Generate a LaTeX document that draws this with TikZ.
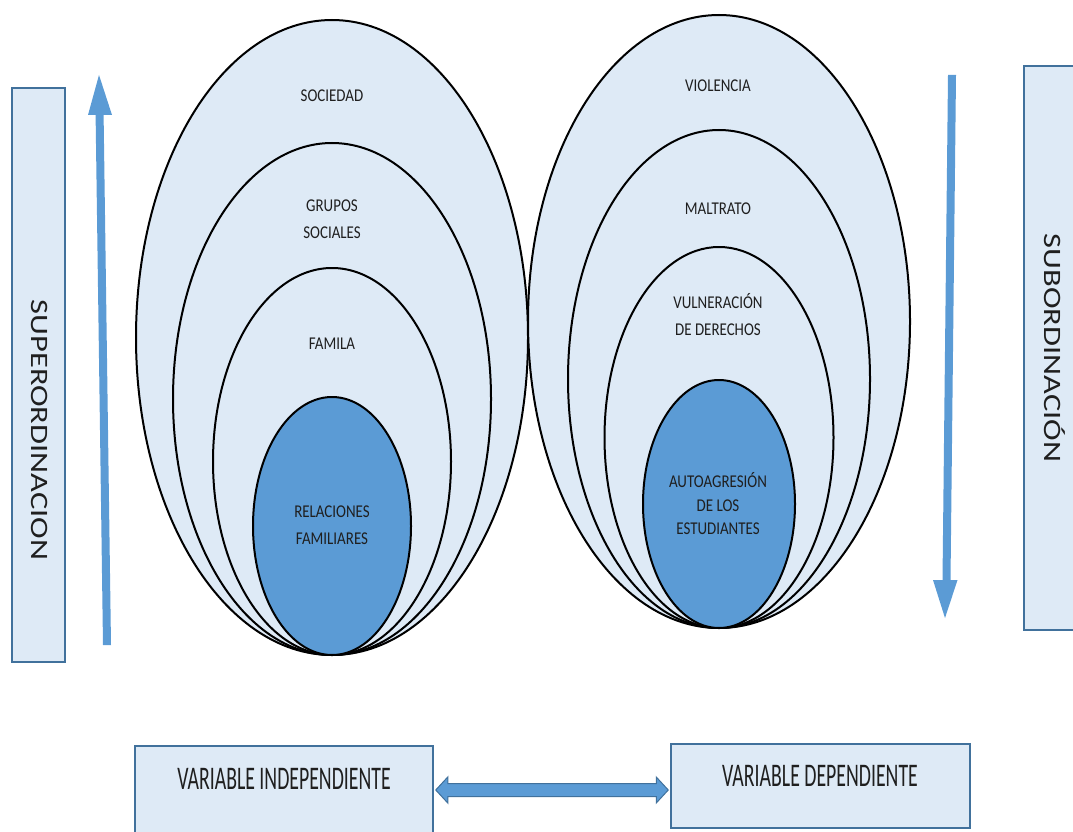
\documentclass[tikz,border=0pt]{standalone}
\usepackage{fontspec}
\setmainfont{Carlito}
\newfontfamily\condA{Carlito}[FakeStretch=0.83]
\newfontfamily\condB{Carlito}[FakeStretch=0.6]
\newfontfamily\wideF{Carlito}[FakeStretch=1.3]
\usetikzlibrary{shapes.geometric,calc}
\definecolor{lightfill}{HTML}{DEEAF6}
\definecolor{bluefill}{HTML}{5B9BD5}
\definecolor{boxline}{HTML}{41719C}
\definecolor{txt}{HTML}{1F1F1F}
\tikzset{
  ring/.style={ellipse, draw=black, line width=2pt, fill=lightfill, inner sep=0pt},
  core/.style={ellipse, draw=black, line width=2pt, fill=bluefill, inner sep=0pt},
  lbl/.style={align=center, text=txt, font=\condA\fontsize{18}{27}\selectfont, inner sep=0pt},
  lblc/.style={align=center, text=txt, font=\condA\fontsize{18}{23.5}\selectfont, inner sep=0pt},
  sidebox/.style={draw=boxline, line width=2.5pt, fill=lightfill},
  sidetxt/.style={rotate=-90, text=txt, font=\wideF\fontsize{25}{25}\selectfont, inner sep=0pt},
  varbox/.style={draw=boxline, line width=2.5pt, fill=lightfill},
  vartxt/.style={text=txt, font=\condB\fontsize{33}{33}\selectfont, inner sep=0pt},
  bigarrow/.style={draw=none, fill=bluefill},
}
\begin{document}
\begin{tikzpicture}[x=1pt,y=-1pt]
\useasboundingbox (0,0) rectangle (1073,832);
% left group
\node[ring, minimum width=392, minimum height=635] (e1) at (332,337.5) {};
% right group outer
\node[ring, minimum width=382, minimum height=613] (f1) at (719,321.5) {};
\node[ring, minimum width=318, minimum height=512] (e2) at (332,399) {};
\node[ring, minimum width=238, minimum height=387] (e3) at (332,461.5) {};
\node[core, minimum width=158, minimum height=258] (e4) at (332,526) {};
\node[ring, minimum width=302, minimum height=498] (f2) at (719,379) {};
\node[ring, minimum width=229, minimum height=381] (f3) at (719,437.5) {};
\node[core, minimum width=152, minimum height=248] (f4) at (719,504) {};
% labels
\node[lbl] (t1) at (332,96) {SOCIEDAD};
\node[lbl] (t2) at (332,219.5) {GRUPOS\\SOCIALES};
\node[lbl] (t3) at (332,344) {FAMILA};
\node[lbl] (t4) at (332,525.5) {RELACIONES\\FAMILIARES};
\node[lbl] (u1) at (718,86) {VIOLENCIA};
\node[lbl] (u2) at (718,209) {MALTRATO};
\node[lbl] (u3) at (718,314.5) {VULNERACIÓN\\DE DERECHOS};
\node[lblc] (u4) at (718,504) {AUTOAGRESIÓN\\DE LOS\\ESTUDIANTES};
% side boxes
\draw[sidebox] (12,88) rectangle (65,662);
\node[sidetxt] (sup) at (40,430) {SUPERORDINACION};
\draw[sidebox] (1024,66) rectangle (1078,630);
\node[sidetxt] (sub) at (1055,348) {SUBORDINACIÓN};
% vertical arrows
\coordinate (la0) at (107,645);
\coordinate (la1) at (99,75);
\fill[bluefill] ($(la0)+(-4,0)$) -- ($(la0)+(4,0)$) -- (103.6,115) -- (112,115) -- (la1) -- (88,115) -- (95.6,115) -- cycle;
\coordinate (ra0) at (952,75);
\coordinate (ra1) at (945,618);
\fill[bluefill] ($(ra0)+(-4,0)$) -- ($(ra0)+(4,0)$) -- (950.5,580) -- (957.5,580) -- (ra1) -- (933,580) -- (942.5,580) -- cycle;
% bottom boxes
\node[varbox, minimum width=298, minimum height=88, inner sep=0pt] (vi) at (284,790) {};
\node[vartxt] (vit) at (284,779) {VARIABLE INDEPENDIENTE};
\node[varbox, minimum width=299, minimum height=84, inner sep=0pt] (vd) at (820.5,786) {};
\node[vartxt] (vdt) at (820,776) {VARIABLE DEPENDIENTE};
% double arrow
\coordinate (da0) at ($(vi.east)+(1.5,0)$);
\coordinate (da1) at ($(vi.east -| vd.west)+(-1.5,0)$);
\draw[fill=bluefill, draw=boxline, line width=1pt]
  (da0) -- ($(da0)+(12,-13)$) -- ($(da0)+(12,-6.5)$) -- ($(da1)+(-12,-6.5)$) -- ($(da1)+(-12,-13)$)
  -- (da1) -- ($(da1)+(-12,13)$) -- ($(da1)+(-12,6.5)$) -- ($(da0)+(12,6.5)$) -- ($(da0)+(12,13)$) -- cycle;
\end{tikzpicture}
\end{document}
